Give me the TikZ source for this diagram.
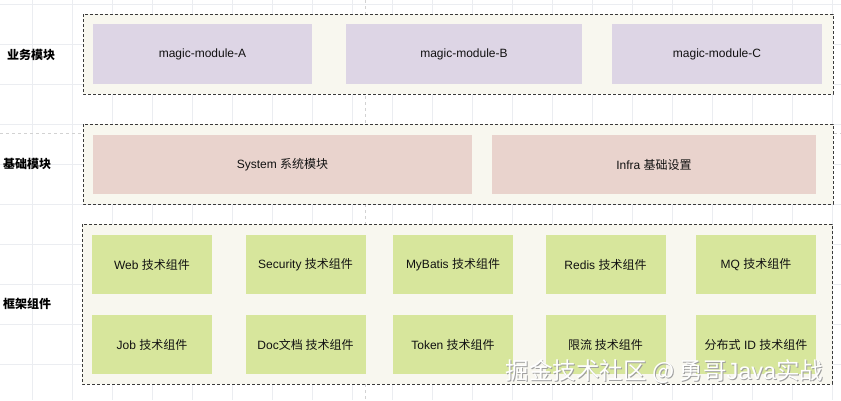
\documentclass[tikz,border=0pt]{standalone}
\usepackage{fontspec}
\setmainfont{Liberation Sans}
\newfontfamily\cjk{Noto Sans CJK SC}
\newcommand{\zhtxt}[1]{{\cjk #1}}

\definecolor{gridgray}{HTML}{EBEDF1}
\definecolor{pagegray}{HTML}{D2D2D2}
\definecolor{framefill}{HTML}{F8F7EF}
\definecolor{framedraw}{HTML}{3A3A3A}
\definecolor{bizfill}{HTML}{DDD5E5}
\definecolor{basefill}{HTML}{E9D3CD}
\definecolor{techfill}{HTML}{D7E69C}
\definecolor{textdark}{HTML}{111111}

\tikzset{frame/.style = {draw = framedraw,
                         fill = framefill,
                         line width = 0.8pt,
                         dash pattern = on 3pt off 2pt},
         mbox/.style = {shape = rectangle,
                        inner sep = 0pt,
                        text = textdark,
                        font = \fontsize{12}{14}\selectfont},
         layer/.style = {font = \fontsize{12}{14}\selectfont\bfseries,
                         text = black,
                         inner sep = 0pt}}

\begin{document}
\begin{tikzpicture}[x=1pt, y=-1pt,
                    bizbox/.style = {mbox, fill = bizfill, minimum height = 60pt},
                    basebox/.style = {mbox, fill = basefill, minimum height = 59pt},
                    techbox/.style = {mbox, fill = techfill, minimum height = 59pt, minimum width = 120pt}]
		\useasboundingbox[fill=white] (0,0) rectangle (841,400);
		% background grid and page breaks
		\foreach \gx in {32,72,...,832}
			\draw[gridgray, line width=0.6pt] (\gx,0) -- (\gx,400);
		\foreach \gy in {4,44,...,396}
			\draw[gridgray, line width=0.6pt] (0,\gy) -- (841,\gy);
		\draw[pagegray, dash pattern=on 3pt off 3pt, line width=0.5pt] (365,0) -- (365,400);
		\draw[pagegray, dash pattern=on 3pt off 3pt, line width=0.5pt] (0,133) -- (841,133);
		% layer frames
		\draw[frame] (83,14) rectangle (833,94);
		\draw[frame] (83,124) rectangle (833,204);
		\draw[frame] (82,224) rectangle (832,384);
		% layer labels
		\node[layer] (bizlabel) at (31,55) {\zhtxt{业务模块}};
		\node[layer] (baselabel) at (27,164) {\zhtxt{基础模块}};
		\node[layer] (techlabel) at (27,304) {\zhtxt{框架组件}};
		% business modules
		\node[bizbox, minimum width=219pt] (modA) at (202.5,54) {magic-module-A};
		\node[bizbox, minimum width=236pt] (modB) at (464,54) {magic-module-B};
		\node[bizbox, minimum width=210pt] (modC) at (717,54) {magic-module-C};
		% base modules
		\node[basebox, minimum width=379pt] (sys) at (282.5,164.5) {System \zhtxt{系统模块}};
		\node[basebox, minimum width=324pt] (infra) at (654,164.5) {Infra \zhtxt{基础设置}};
		% framework components
		\node[techbox] (web) at (152,264.5) {Web \zhtxt{技术组件}};
		\node[techbox] (security) at (305.5,264.5) {Security \zhtxt{技术组件}};
		\node[techbox] (mybatis) at (453,264.5) {MyBatis \zhtxt{技术组件}};
		\node[techbox] (redis) at (605.5,264.5) {Redis \zhtxt{技术组件}};
		\node[techbox] (mq) at (756,264.5) {MQ \zhtxt{技术组件}};
		\node[techbox] (job) at (152,344.5) {Job \zhtxt{技术组件}};
		\node[techbox] (doc) at (305.5,344.5) {Doc\zhtxt{文档 技术组件}};
		\node[techbox] (token) at (453,344.5) {Token \zhtxt{技术组件}};
		\node[techbox] (ratelimit) at (605.5,344.5) {\zhtxt{限流 技术组件}};
		\node[techbox] (distid) at (756,344.5) {\zhtxt{分布式} ID \zhtxt{技术组件}};
		% watermark
		\node[text=gray!75, font=\fontsize{23.5}{26}\selectfont] (wmshadow) at (665.5,373) {\zhtxt{掘金技术社区 @ 勇哥}Java\zhtxt{实战}};
		\node[text=white, font=\fontsize{23.5}{26}\selectfont] (watermark) at (664.5,372) {\zhtxt{掘金技术社区 @ 勇哥}Java\zhtxt{实战}};
	\end{tikzpicture}
\end{document}
